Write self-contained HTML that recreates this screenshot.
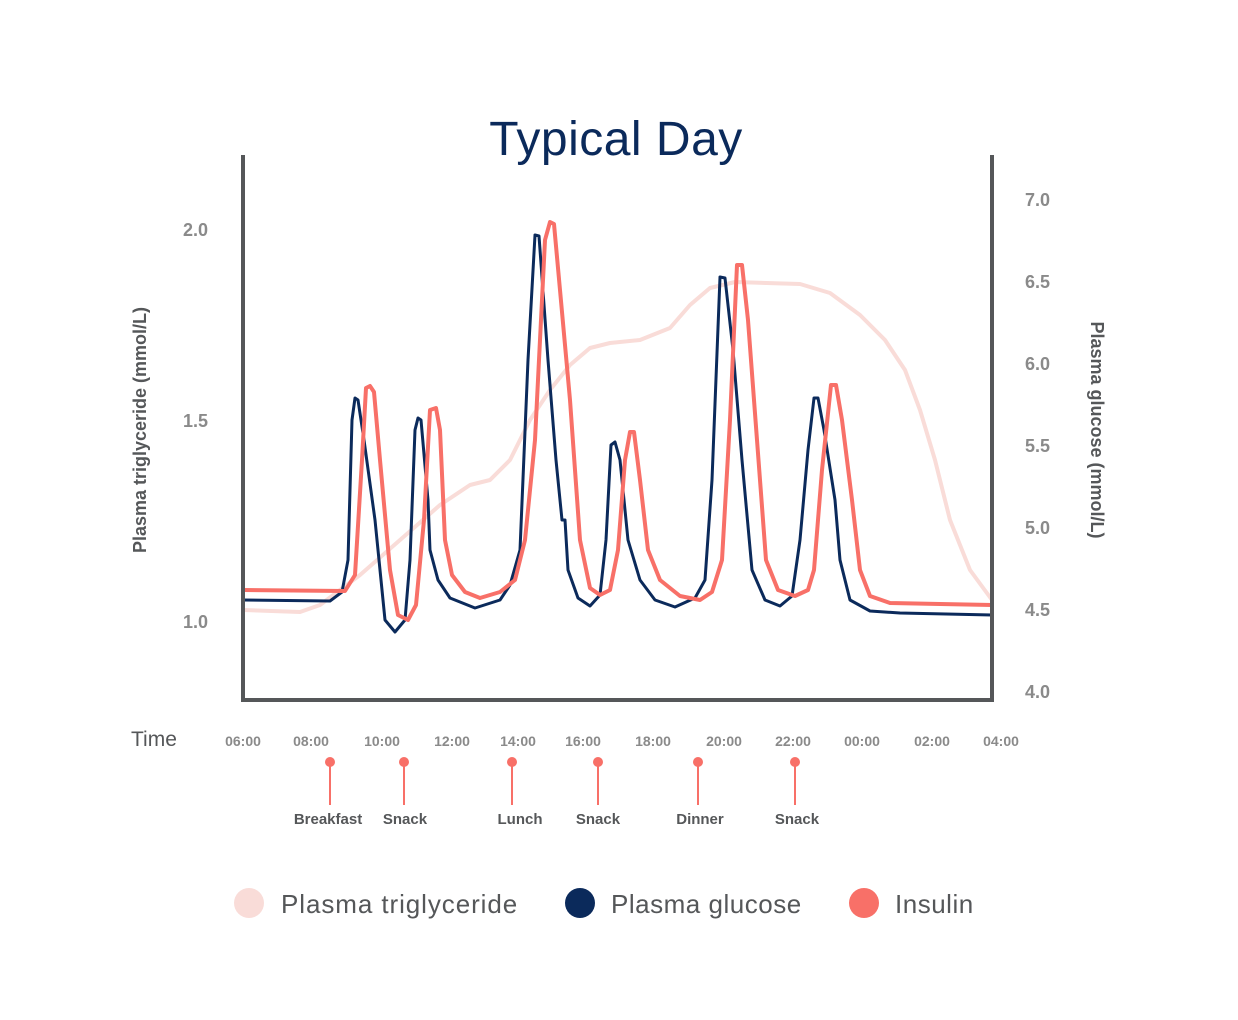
<!DOCTYPE html>
<html><head><meta charset="utf-8"><style>
body{margin:0;background:#fff;}
svg{display:block;font-family:"Liberation Sans",sans-serif;}
</style></head><body>
<svg width="1238" height="1020" viewBox="0 0 1238 1020">
<text x="616" y="155" text-anchor="middle" font-size="48" fill="#0b2a5b" letter-spacing="0.5">Typical Day</text>
<g fill="none" stroke-linejoin="round" stroke-linecap="round">
<polyline stroke="#f9dcd8" stroke-width="4" points="243,610 300,612 320,605 360,575 400,540 440,505 470,485 490,480 510,460 530,420 550,390 570,365 590,348 610,343 640,340 670,328 690,305 710,288 735,282 800,284 830,293 860,315 885,340 905,370 920,410 935,460 950,520 970,570 992,600"/>
<polyline stroke="#0b2a5b" stroke-width="3" points="243,600 330,601 342,592 348,560 352,420 355,398 358,400 364,440 375,520 385,620 395,632 405,620 410,560 415,430 418,418 421,420 428,500 430,550 438,580 450,598 475,608 500,600 510,585 520,550 528,360 535,235 539,236 548,360 556,460 562,520 565,520 568,570 578,598 590,606 600,595 606,540 611,445 615,442 620,460 628,540 640,580 655,600 675,607 695,598 705,580 712,480 720,277 725,278 733,350 742,460 752,570 765,600 780,606 792,596 800,540 808,450 814,398 818,398 824,430 835,500 840,560 850,600 870,611 900,613 992,615"/>
<polyline stroke="#f87068" stroke-width="4" points="243,590 345,591 355,575 362,460 366,388 370,386 374,392 380,460 390,570 398,615 408,620 416,605 424,520 430,410 436,408 440,430 445,540 452,575 465,592 480,598 500,592 515,580 525,540 535,440 545,240 550,222 554,224 560,290 570,400 580,540 590,588 600,595 610,590 618,550 625,460 630,432 634,432 640,480 648,550 660,580 680,596 700,600 712,592 722,560 730,420 737,265 742,265 748,320 757,440 766,560 778,590 795,596 808,590 814,570 822,470 831,385 836,385 842,420 852,500 860,570 870,596 890,603 940,604 992,605"/>
</g>
<g stroke="#555759" stroke-width="4" fill="none">
<polyline points="243,155 243,700 992,700 992,155"/>
</g>
<g font-size="18" font-weight="bold" fill="#8a8a8a">
<text x="208" y="236" text-anchor="end">2.0</text>
<text x="208" y="427" text-anchor="end">1.5</text>
<text x="208" y="628" text-anchor="end">1.0</text>
<text x="1025" y="206">7.0</text>
<text x="1025" y="288">6.5</text>
<text x="1025" y="370">6.0</text>
<text x="1025" y="452">5.5</text>
<text x="1025" y="534">5.0</text>
<text x="1025" y="616">4.5</text>
<text x="1025" y="698">4.0</text>
</g>
<text transform="translate(146,430) rotate(-90)" text-anchor="middle" font-size="18" font-weight="bold" fill="#555759">Plasma triglyceride (mmol/L)</text>
<text transform="translate(1091,430) rotate(90)" text-anchor="middle" font-size="18" font-weight="bold" fill="#555759">Plasma glucose (mmol/L)</text>
<text x="131" y="746" font-size="21" fill="#555759">Time</text>
<g font-size="14" font-weight="bold" fill="#8a8a8a" text-anchor="middle">
<text x="243" y="746">06:00</text><text x="311" y="746">08:00</text><text x="382" y="746">10:00</text><text x="452" y="746">12:00</text><text x="518" y="746">14:00</text><text x="583" y="746">16:00</text><text x="653" y="746">18:00</text><text x="724" y="746">20:00</text><text x="793" y="746">22:00</text><text x="862" y="746">00:00</text><text x="932" y="746">02:00</text><text x="1001" y="746">04:00</text>
</g>
<g stroke="#f87068" stroke-width="2" fill="#f87068">
<line x1="330" y1="762" x2="330" y2="805"/><circle cx="330" cy="762" r="4"/>
<line x1="404" y1="762" x2="404" y2="805"/><circle cx="404" cy="762" r="4"/>
<line x1="512" y1="762" x2="512" y2="805"/><circle cx="512" cy="762" r="4"/>
<line x1="598" y1="762" x2="598" y2="805"/><circle cx="598" cy="762" r="4"/>
<line x1="698" y1="762" x2="698" y2="805"/><circle cx="698" cy="762" r="4"/>
<line x1="795" y1="762" x2="795" y2="805"/><circle cx="795" cy="762" r="4"/>
</g>
<g font-size="15" font-weight="bold" fill="#555759" text-anchor="middle">
<text x="328" y="824">Breakfast</text><text x="405" y="824">Snack</text><text x="520" y="824">Lunch</text><text x="598" y="824">Snack</text><text x="700" y="824">Dinner</text><text x="797" y="824">Snack</text>
</g>
<circle cx="249" cy="903" r="15" fill="#f9dcd8"/>
<circle cx="580" cy="903" r="15" fill="#0b2a5b"/>
<circle cx="864" cy="903" r="15" fill="#f87068"/>
<g font-size="26" fill="#555759" letter-spacing="0.8">
<text x="281" y="913" textLength="237" lengthAdjust="spacing">Plasma triglyceride</text>
<text x="611" y="913" textLength="191" lengthAdjust="spacing">Plasma glucose</text>
<text x="895" y="913" textLength="79" lengthAdjust="spacing">Insulin</text>
</g>
</svg>
</body></html>
